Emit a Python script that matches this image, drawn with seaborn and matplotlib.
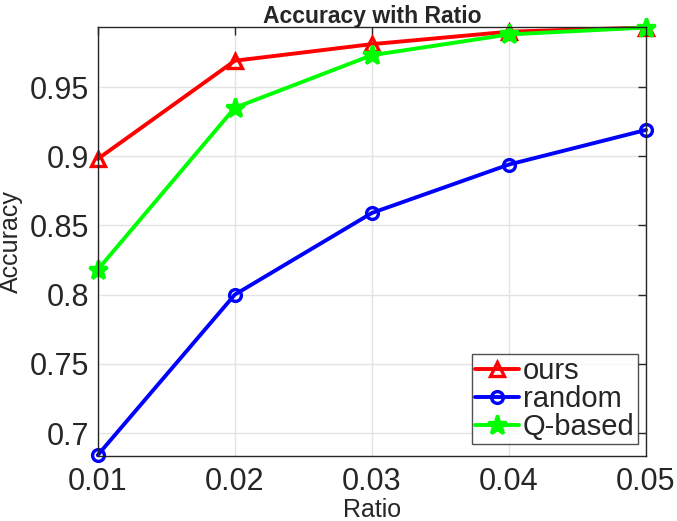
import matplotlib
matplotlib.use("Agg")
import matplotlib.pyplot as plt
import numpy as np
import pandas as pd
import seaborn as sns

ratio = [0.01, 0.02, 0.03, 0.04, 0.05]
acc_ours = [0.898, 0.969, 0.981, 0.990, 0.993]
acc_random = [0.684, 0.800, 0.859, 0.894, 0.919]
acc_qbased = [0.818, 0.935, 0.973, 0.988, 0.993]

x_ticks = [0.01, 0.02, 0.03, 0.04, 0.05]
x_tick_labels = ["0.01", "0.02", "0.03", "0.04", "0.05"]
y_ticks = [0.7, 0.75, 0.8, 0.85, 0.9, 0.95]
y_tick_labels = ["0.7", "0.75", "0.8", "0.85", "0.9", "0.95"]

sns.set_style("white")
plt.rcParams["font.family"] = ["Liberation Sans", "DejaVu Sans"]

df = pd.DataFrame({"Ratio": ratio, "ours": acc_ours, "random": acc_random, "Q-based": acc_qbased})

fig = plt.figure(figsize=(6.77, 5.21), dpi=100)
ax = fig.add_axes([97.7 / 677, 1 - 456 / 521, (646 - 97.7) / 677, (456 - 26.7) / 521])

styles = [
    ("ours", "#ff0000", "^", "none", 10),
    ("random", "#0000ff", "o", "none", 8.5),
    ("Q-based", "#00ff00", "*", "#00ff00", 14),
]
for name, color, marker, face, size in styles:
    sns.lineplot(
        data=df,
        x="Ratio",
        y=name,
        color=color,
        marker=marker,
        markersize=size,
        markerfacecolor=face,
        markeredgecolor=color,
        markeredgewidth=2.4,
        linewidth=2.8,
        label=name,
        clip_on=False,
        ax=ax,
    )

ax.set_xlim(0.01, 0.05)
ax.set_ylim(0.6834, 0.9936)
ax.set_xticks(x_ticks)
ax.set_xticklabels(x_tick_labels)
ax.set_yticks(y_ticks)
ax.set_yticklabels(y_tick_labels)
ax.grid(True, color="#e3e3e3", linewidth=1)
ax.set_axisbelow(True)
for spine in ax.spines.values():
    spine.set_color("#262626")
    spine.set_linewidth(1)
    spine.set_visible(True)
ax.tick_params(direction="in", length=6, width=1, color="#262626",
               labelsize=22, labelcolor="#262626", top=True, right=True)
ax.tick_params(axis="x", pad=8)
ax.tick_params(axis="y", pad=6)

ax.set_xlabel("Ratio", fontsize=18, color="#262626")
ax.set_ylabel("Accuracy", fontsize=18, color="#262626")
ax.xaxis.set_label_coords(0.5, -0.097)
ax.yaxis.set_label_coords(-0.136, 0.5)
ax.set_title("Accuracy with Ratio", fontsize=16.5, fontweight="bold", pad=3)

leg = ax.legend(loc="lower right", fontsize=21, frameon=True, fancybox=False,
                borderpad=0.1, labelspacing=0.0, handlelength=1.5, handletextpad=0.15,
                borderaxespad=0.0, bbox_to_anchor=(0.985, 0.028))
leg.get_frame().set_edgecolor("#262626")
leg.get_frame().set_linewidth(1)

fig.savefig("out.png", dpi=100)
